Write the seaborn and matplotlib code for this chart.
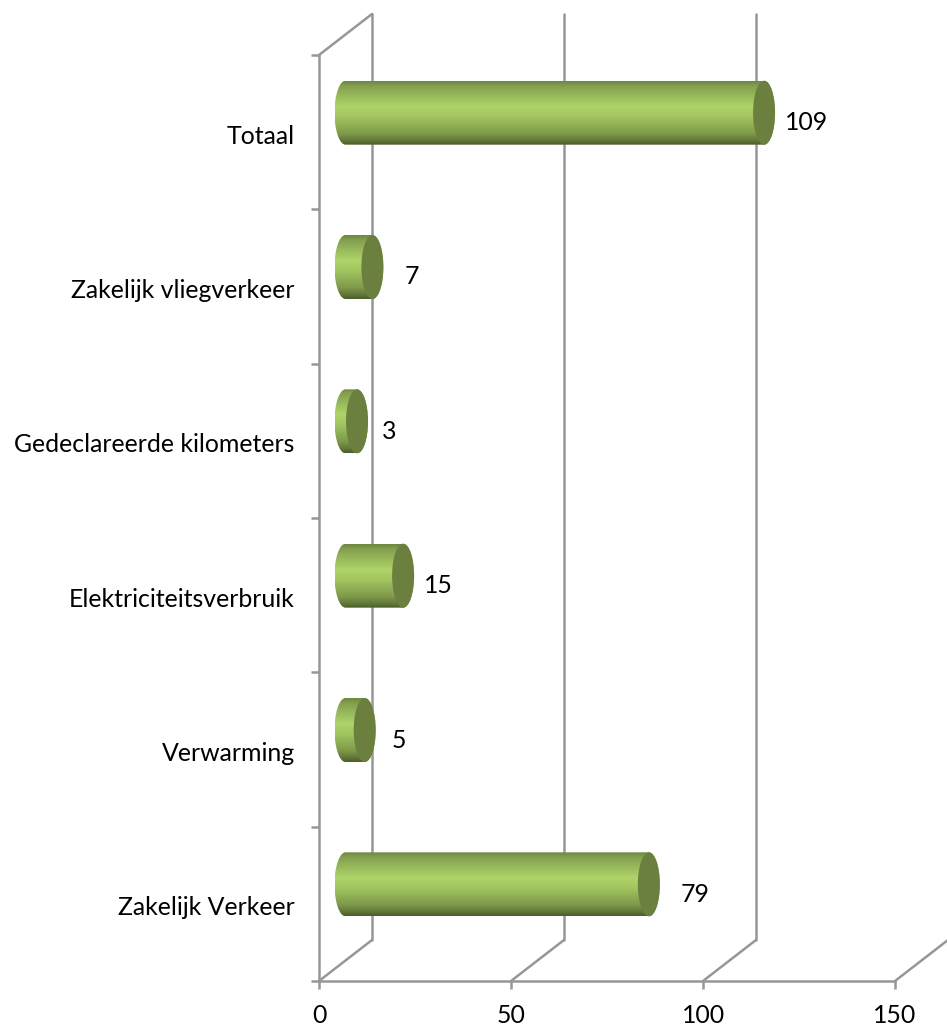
import numpy as np
import pandas as pd
import matplotlib.pyplot as plt
from matplotlib.colors import LinearSegmentedColormap
from matplotlib.patches import Ellipse, PathPatch
from matplotlib.path import Path
from matplotlib.transforms import ScaledTranslation
import seaborn as sns

categories = ["Totaal", "Zakelijk vliegverkeer", "Gedeclareerde kilometers",
              "Elektriciteitsverbruik", "Verwarming", "Zakelijk Verkeer"]
values = [109, 7, 3, 15, 5, 79]
x_ticks = [0, 50, 100, 150]

# --- layout ---
W, H = 947, 1026
LEFT, RIGHT, TOP, BOTTOM = 319, 895, 55, 981
PX_X = (RIGHT - LEFT) / 150
PX_Y = (BOTTOM - TOP) / len(categories)
DEPTH_X = 53 / PX_X
DEPTH_Y = 41 / PX_Y
CAP_W = 22 / PX_X
BAR_H = 64 / PX_Y
GRID = "#979797"
LW = 1.8
FS = 17.9
# how far each value label sits from the end of its bar, in data units
label_gap = [2.7, 5.5, 3.5, 2.5, 4.2, 5.5]

sns.set_theme(style="white")
plt.rcParams["font.family"] = ["Lato", "DejaVu Sans"]

fig = plt.figure(figsize=(W / 100, H / 100), dpi=100)
ax = fig.add_axes([LEFT / W, 1 - BOTTOM / H, (RIGHT - LEFT) / W, (BOTTOM - TOP) / H])

df = pd.DataFrame({"category": categories, "value": values})
sns.barplot(data=df, x="value", y="category", order=categories, orient="h",
            width=BAR_H, color="#aed268", ax=ax)

ax.set_xlim(0, 150)
ax.set_ylim(len(categories) - 0.5, -0.5)
y0, y1 = ax.get_ylim()

# back wall gridlines and the floor diagonals
for t in x_ticks:
    ax.plot([t + DEPTH_X, t + DEPTH_X], [y0 - DEPTH_Y, y1 - DEPTH_Y], color=GRID, lw=LW,
            clip_on=False, zorder=1)
    ax.plot([t, t + DEPTH_X], [y0, y0 - DEPTH_Y], color=GRID, lw=LW, clip_on=False, zorder=1)
ax.plot([0, DEPTH_X], [y1, y1 - DEPTH_Y], color=GRID, lw=LW, clip_on=False, zorder=1)

# redraw the seaborn bars as cylinders, standing halfway into the depth
cyl = LinearSegmentedColormap.from_list("cyl", [
    (0.0, "#6d873f"), (0.08, "#84a04f"), (0.40, "#afd469"), (0.55, "#a3c661"),
    (0.82, "#7f9a4b"), (0.94, "#5f7536"), (1.0, "#4c5d2b")])
grad = np.linspace(0, 1, 256).reshape(-1, 1)

for bar, cat, val, gap in zip(list(ax.patches), categories, values, label_gap):
    bar.set_visible(False)
    yc = bar.get_y() + bar.get_height() / 2 - DEPTH_Y / 2 + 1 / PX_Y
    top, bot = yc - BAR_H / 2, yc + BAR_H / 2
    x_a = DEPTH_X / 2
    x_b = x_a + bar.get_width()
    r = CAP_W / 2
    k = 0.5523
    # body outline with rounded left end and rounded right end
    verts = [(x_a, top), (x_b, top),
             (x_b + r * k, top), (x_b + r, yc - BAR_H / 2 * k), (x_b + r, yc),
             (x_b + r, yc + BAR_H / 2 * k), (x_b + r * k, bot), (x_b, bot),
             (x_a, bot),
             (x_a - r * k, bot), (x_a - r, yc + BAR_H / 2 * k), (x_a - r, yc),
             (x_a - r, yc - BAR_H / 2 * k), (x_a - r * k, top), (x_a, top)]
    codes = [Path.MOVETO, Path.LINETO,
             Path.CURVE4, Path.CURVE4, Path.CURVE4, Path.CURVE4, Path.CURVE4, Path.CURVE4,
             Path.LINETO,
             Path.CURVE4, Path.CURVE4, Path.CURVE4, Path.CURVE4, Path.CURVE4, Path.CURVE4]
    outline = PathPatch(Path(verts, codes), fc="none", ec="none", transform=ax.transData)
    ax.add_patch(outline)
    im = ax.imshow(grad, cmap=cyl, aspect="auto", origin="upper", zorder=3,
                   extent=[x_a - r, x_b + r, bot, top])
    im.set_clip_path(outline)
    ax.add_patch(Ellipse((x_b, yc), CAP_W, BAR_H, fc="#6b7f3f", ec="none", zorder=4))
    ax.text(x_b + r + gap, yc + 10 / PX_Y, str(val), ha="left", va="center",
            fontsize=FS, color="black", zorder=5)

ax.set_xlim(0, 150)
ax.set_ylim(y0, y1)

# spines and ticks
sns.despine(ax=ax, top=True, right=True)
for side in ["left", "bottom"]:
    ax.spines[side].set_color(GRID)
    ax.spines[side].set_linewidth(LW)
ax.set_xlabel("")
ax.set_ylabel("")
ax.set_xticks(x_ticks)
ax.set_xticklabels([str(t) for t in x_ticks], fontsize=FS, color="black")
ax.set_yticks(range(len(categories)))
ax.set_yticklabels(categories, fontsize=FS, color="black")
ax.set_yticks(np.arange(-0.5, len(categories)), minor=True)
ax.tick_params(axis="y", which="major", length=0, pad=17.5)
ax.tick_params(axis="y", which="minor", length=5.8, width=LW, color=GRID, left=True)
ax.tick_params(axis="x", length=5.8, width=LW, color=GRID, bottom=True, pad=11)
for lab in ax.get_yticklabels():
    lab.set_transform(lab.get_transform() + ScaledTranslation(0, -2 / 100, fig.dpi_scale_trans))
ax.patch.set_alpha(0)

fig.savefig("out.png", dpi=100, facecolor="white")
